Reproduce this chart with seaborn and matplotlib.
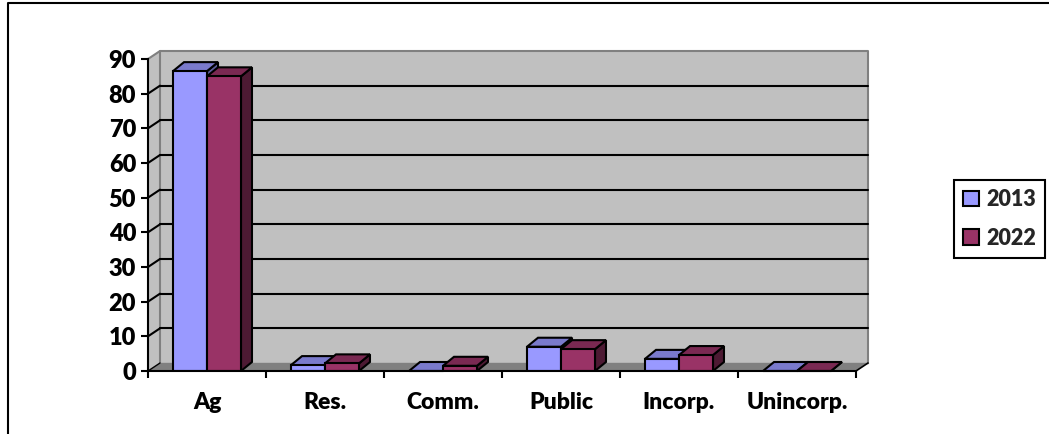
import numpy as np
import pandas as pd
import seaborn as sns
import matplotlib
matplotlib.use("Agg")
import matplotlib.pyplot as plt
from matplotlib.patches import Polygon, Patch
from matplotlib.lines import Line2D

categories = ["Ag", "Res.", "Comm.", "Public", "Incorp.", "Unincorp."]
values_2013 = [86.5, 1.7, 0.0, 7.0, 3.5, 0.0]
values_2022 = [85.0, 2.2, 1.5, 6.3, 4.6, 0.0]
series_names = ["2013", "2022"]
yticks = list(range(0, 100, 10))

W, H = 1049, 434
front = ["#9999FF", "#993366"]
top = ["#7A7ACC", "#7A2952"]
side = ["#5C5C99", "#4D1A33"]
TEXT_WEIGHT = 800

sns.set_theme(style="white")
plt.rcParams["font.family"] = ["Lato", "DejaVu Sans"]

fig = plt.figure(figsize=(W / 100, H / 100), dpi=100)
L, R, T, B = 148, 856, 59, 371
ax = fig.add_axes([L / W, 1 - B / H, (R - L) / W, (B - T) / H])

df = pd.DataFrame({
    "cat": categories * 2,
    "val": values_2013 + values_2022,
    "year": [series_names[0]] * 6 + [series_names[1]] * 6,
})
sns.barplot(data=df, x="cat", y="val", hue="year", order=categories,
            hue_order=series_names, palette=front, saturation=1,
            gap=0, width=0.576, edgecolor="black", linewidth=1.5,
            legend=False, ax=ax, zorder=5)
ax.set_xlim(-0.5, 5.5)
ax.set_ylim(0, 90)

pxx = (R - L) / 6
pxy = (B - T) / 90
wx, wy = 12 / pxx, 8 / pxy      # wall depth in data units
bx, by = 11 / pxx, 9 / pxy      # bar depth in data units
x0, x1 = -0.5, 5.5
ymax = max(yticks)


def poly(pts, fc, z, ec="none", lw=0):
    ax.add_patch(Polygon(pts, closed=True, facecolor=fc, edgecolor=ec,
                         linewidth=lw, clip_on=False, zorder=z,
                         joinstyle="miter"))


# walls
poly([(x0 + wx, wy), (x1 + wx, wy), (x1 + wx, ymax + wy), (x0 + wx, ymax + wy)], "#C0C0C0", 1)
poly([(x0, 0), (x0 + wx, wy), (x0 + wx, ymax + wy), (x0, ymax)], "#C0C0C0", 1)
poly([(x0, 0), (x1, 0), (x1 + wx, wy), (x0 + wx, wy)], "#808080", 1)
ax.plot([x0 + wx, x0 + wx, x1 + wx, x1 + wx], [wy, ymax + wy, ymax + wy, wy],
        color="#808080", lw=1.5, clip_on=False, zorder=2)
ax.plot([x0, x0 + wx], [ymax, ymax + wy], color="#808080", lw=1.5, clip_on=False, zorder=2)
ax.plot([x0 + wx, x1 + wx], [wy, wy], color="#808080", lw=1.0, clip_on=False, zorder=2)

# gridlines
for v in yticks[1:-1]:
    ax.plot([x0 + wx, x1 + wx], [v + wy, v + wy], color="black", lw=1.5, clip_on=False, zorder=3)
    ax.plot([x0, x0 + wx], [v, v + wy], color="black", lw=1.5, clip_on=False, zorder=3)
ax.plot([x1, x1 + wx], [0, wy], color="black", lw=1.2, clip_on=False, zorder=3)
ax.plot([x0, x0 + wx], [0, wy], color="black", lw=1.0, clip_on=False, zorder=3)

# 3D faces built from the bars seaborn drew
for c, cont in enumerate(ax.containers):
    for b in cont:
        xa, xb, h = b.get_x(), b.get_x() + b.get_width(), b.get_height()
        z = 4 + 0.1 * b.get_x() + 0.01 * c
        b.set_zorder(z + 0.02)
        b.set_joinstyle("miter")
        poly([(xb, 0), (xb + bx, by), (xb + bx, h + by), (xb, h)], side[c], z, "black", 1.5)
        poly([(xa, h), (xb, h), (xb + bx, h + by), (xa + bx, h + by)], top[c], z + 0.01, "black", 1.5)

# axes
sns.despine(ax=ax, top=True, right=True)
for s in ("left", "bottom"):
    ax.spines[s].set_color("black")
    ax.spines[s].set_linewidth(1.5)
    ax.spines[s].set_zorder(20)
ax.patch.set_alpha(0)
ax.set_xlabel("")
ax.set_ylabel("")
ax.set_yticks(yticks)
ax.set_xticks(np.arange(6))
ax.set_xticklabels(categories)
ax.set_xticks(np.arange(7) - 0.5, minor=True)
ax.tick_params(axis="x", which="major", length=0, pad=15, labelsize=16.5, labelcolor="black")
ax.tick_params(axis="x", which="minor", length=5, width=1.5, color="black", bottom=True)
ax.tick_params(axis="y", length=5, width=1.5, color="black", left=True, pad=3.5, labelsize=17, labelcolor="black")
for t in ax.get_xticklabels() + ax.get_yticklabels():
    t.set_fontweight(TEXT_WEIGHT)

# legend
handles = [Patch(facecolor=front[i], edgecolor="black", linewidth=1.5, label=series_names[i]) for i in range(2)]
leg = fig.legend(handles=handles, loc="upper left",
                 bbox_to_anchor=(954 / W, 1 - 180 / H), bbox_transform=fig.transFigure,
                 frameon=True, fancybox=False, framealpha=1, edgecolor="black",
                 prop={"family": "Lato", "weight": TEXT_WEIGHT, "size": 15.5},
                 handlelength=0.72, handleheight=0.72, handletextpad=0.37,
                 borderpad=0.42, borderaxespad=0, labelspacing=0.82)
leg.get_frame().set_linewidth(1.5)

# outer chart frame: left and top edges only
fx = [8 / W, 8 / W, 1]
fy = [0, 1 - 3 / H, 1 - 3 / H]
fig.add_artist(Line2D(fx, fy, color="black", lw=1.5, transform=fig.transFigure))

fig.savefig("out.png", dpi=100)
